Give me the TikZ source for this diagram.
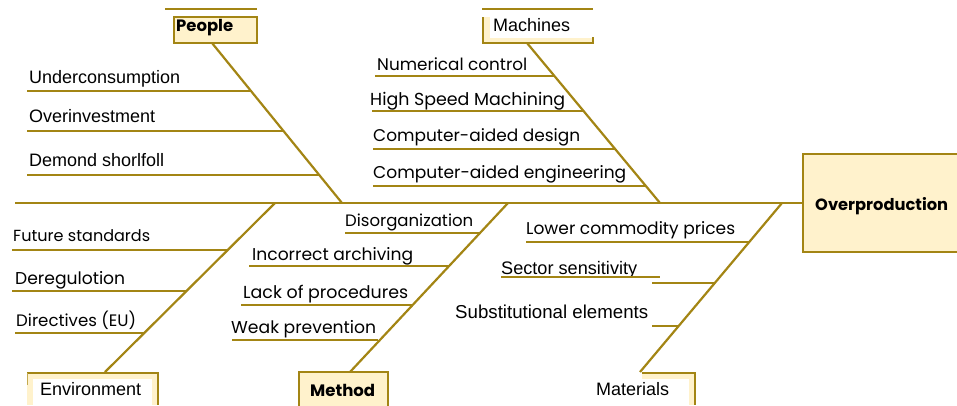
\documentclass[tikz,border=0pt]{standalone}
\usepackage{fontspec}
\setmainfont{Liberation Sans}
\newfontfamily\gothicfam{Poppins}
\newcommand\arialtxt{\fontsize{18}{20}\selectfont}
\newcommand\gw[2]{\resizebox{#1pt}{!}{\gothicfam\fontsize{17}{20}\selectfont #2}}
\newcommand\gbw[2]{\resizebox{#1pt}{!}{\gothicfam\bfseries\fontsize{16}{20}\selectfont #2}}
\newcommand\aw[2]{\resizebox{#1pt}{!}{\fontsize{18}{20}\selectfont #2}}
\definecolor{gold}{RGB}{163,133,20}
\definecolor{goldlight}{RGB}{196,170,80}
\definecolor{cream}{RGB}{255,242,204}
\tikzset{
  spine/.style={draw=gold, line width=2.5pt},
  bone/.style={draw=gold, line width=2.2pt},
  sub/.style={draw=gold, line width=1.3pt},
  edge/.style={draw=gold, line width=1.6pt},
  lab/.style={anchor=base west, inner sep=0pt, font=\arialtxt},
  glab/.style={anchor=base west, inner sep=0pt},
  creambox/.style={draw=gold, line width=1.4pt, fill=cream},
}
\begin{document}
\begin{tikzpicture}[x=1pt,y=-1pt]
\useasboundingbox (0,0) rectangle (957,405);

% head box
\draw[creambox] (803,154) rectangle (962,252);
\node[glab] (ov) at (815,210) {\gbw{133}{Overproduction}};

% category boxes
% People
\draw[edge] (165,9) -- (257,9);
\draw[creambox] (174,17) rectangle (257,43);
\node[glab] (people) at (176,31.7) {\gbw{57}{People}};
% Machines
\draw[edge] (482,9) -- (593,9);
\fill[cream] (483,17) rectangle (593,43);
\fill[white] (490,17) rectangle (593,38);
\draw[edge] (483,17) -- (483,43) -- (593,43) -- (593,37);
\node[lab] (machines) at (493,31.7) {Machines};
% Environment
\fill[cream] (27,373) rectangle (158,405);
\fill[white] (33,379) rectangle (152,405);
\draw[edge] (27,373) -- (158,373) -- (158,405);
\draw[draw=goldlight, line width=0.8pt] (27,373) -- (27,385);
\node[lab] (env) at (40,395) {Environment};
% Method
\draw[creambox] (299,372) rectangle (388,410);
\node[glab] (method) at (310,396.7) {\gbw{65}{Method}};
% Materials
\fill[cream] (642,373) rectangle (695,405);
\fill[white] (642,379) rectangle (689,405);
\draw[edge] (642,373) -- (695,373) -- (695,405);
\node[lab] (materials) at (596,395) {Materials};

% spine
\coordinate (tail) at (15,203);
\coordinate (head) at (803,203);
\draw[spine] (tail) -- (head);

% bone coordinates
\coordinate (pT) at (212,43);  \coordinate (pB) at (342,203);
\coordinate (mT) at (527,43);  \coordinate (mB) at (660,203);
\coordinate (eT) at (275,203); \coordinate (eB) at (105,372);
\coordinate (dT) at (508,203); \coordinate (dB) at (350,372);
\coordinate (aT) at (782,203); \coordinate (aB) at (640,372);
\draw[bone] (pT) -- (pB);
\draw[bone] (mT) -- (mB);
\draw[bone] (eT) -- (eB);
\draw[bone] (dT) -- (dB);
\draw[bone] (aT) -- (aB);

% People causes
\node[lab] (p1) at (29,83.3) {Underconsumption};
\node[lab] (p2) at (29,122.7) {Overinvestment};
\node[lab] (p3) at (29,166.7) {Demond shorlfoll};
\coordinate (p1s) at (27,91);  \coordinate (p1e) at (251,91);
\coordinate (p2s) at (27,131); \coordinate (p2e) at (283,131);
\coordinate (p3s) at (27,175); \coordinate (p3e) at (319,175);
\draw[sub] (p1s) -- (p1e);
\draw[sub] (p2s) -- (p2e);
\draw[sub] (p3s) -- (p3e);

% Machines causes
\node[glab] (m1) at (377,70.7) {\gw{150}{Numerical control}};
\node[glab] (m2) at (370,105) {\gw{195}{High Speed Machining}};
\node[glab] (m3) at (373,141.7) {\gw{207}{Computer-aided design}};
\node[glab] (m4) at (373,178.3) {\gw{253}{Computer-aided engineering}};
\coordinate (m1s) at (375,76);  \coordinate (m1e) at (554,76);
\coordinate (m2s) at (372,111); \coordinate (m2e) at (583,111);
\coordinate (m3s) at (373,149); \coordinate (m3e) at (615,149);
\coordinate (m4s) at (373,186); \coordinate (m4e) at (646,186);
\draw[sub] (m1s) -- (m1e);
\draw[sub] (m2s) -- (m2e);
\draw[sub] (m3s) -- (m3e);
\draw[sub] (m4s) -- (m4e);

% Environment causes
\node[glab] (e1) at (13,241.7) {\gw{137}{Future standards}};
\node[glab] (e2) at (15,284) {\gw{110}{Deregulotion}};
\node[glab] (e3) at (16,326.7) {\gw{120}{Directives (EU)}};
\coordinate (e1s) at (12,250); \coordinate (e1e) at (228,250);
\coordinate (e2s) at (12,291); \coordinate (e2e) at (187,291);
\coordinate (e3s) at (15,333); \coordinate (e3e) at (144,333);
\draw[sub] (e1s) -- (e1e);
\draw[sub] (e2s) -- (e2e);
\draw[sub] (e3s) -- (e3e);

% Method causes
\node[glab] (d1) at (345,226.7) {\gw{128}{Disorganization}};
\node[glab] (d2) at (252,260) {\gw{161}{Incorrect archiving}};
\node[glab] (d3) at (243,298.3) {\gw{165}{Lack of procedures}};
\node[glab] (d4) at (231,333.3) {\gw{145}{Weak prevention}};
\coordinate (d1s) at (345,233); \coordinate (d1e) at (480,233);
\coordinate (d2s) at (249,266); \coordinate (d2e) at (449,266);
\coordinate (d3s) at (241,305); \coordinate (d3e) at (413,305);
\coordinate (d4s) at (232,340); \coordinate (d4e) at (378,340);
\draw[sub] (d1s) -- (d1e);
\draw[sub] (d2s) -- (d2e);
\draw[sub] (d3s) -- (d3e);
\draw[sub] (d4s) -- (d4e);

% Materials causes
\node[glab] (a1) at (526,234) {\gw{209}{Lower commodity prices}};
\node[glab] (a2) at (501,274) {\aw{136}{Sector sensitivity}};
\node[glab] (a3) at (455,318.3) {\aw{193}{Substitutional elements}};
\coordinate (a1s) at (526,242); \coordinate (a1e) at (749,242);
\coordinate (a2u) at (501,277); \coordinate (a2v) at (660,277);
\coordinate (a2s) at (652,283); \coordinate (a2e) at (715,283);
\coordinate (a3s) at (652,326); \coordinate (a3e) at (679,326);
\draw[sub] (a1s) -- (a1e);
\draw[draw=gold, line width=2pt] (a2u) -- (a2v);
\draw[sub] (a2s) -- (a2e);
\draw[sub] (a3s) -- (a3e);
\end{tikzpicture}
\end{document}
